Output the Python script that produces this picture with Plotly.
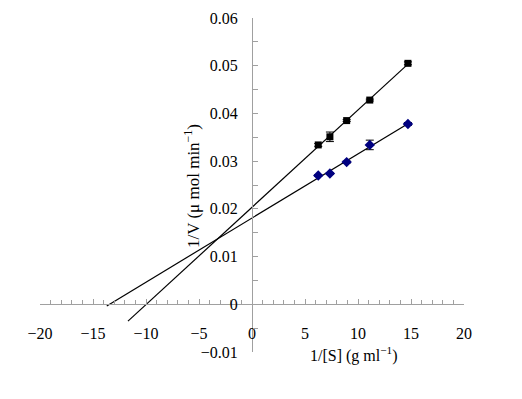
import numpy as np
import plotly.graph_objects as go

# Data
inv_s = [6.25, 7.35, 8.93, 11.11, 14.71]
inv_v_black = [0.0334, 0.0351, 0.0385, 0.0428, 0.0505]
err_black = [0.0003, 0.0010, 0.0002, 0.0002, 0.0003]
inv_v_blue = [0.0270, 0.0274, 0.0298, 0.0334, 0.0378]
err_blue = [0.0002, 0.0002, 0.0002, 0.0010, 0.0003]
trend_start_black = -11.7
trend_start_blue = -13.7

x_ticks = [-20, -15, -10, -5, 0, 5, 10, 15, 20]
x_ticktext = ["\u221220", "\u221215", "\u221210", "\u22125", "0", "5", "10", "15", "20"]
y_ticks = [-0.01, 0, 0.01, 0.02, 0.03, 0.04, 0.05, 0.06]
y_ticktext = ["\u22120.01", "0", "0.01", "0.02", "0.03", "0.04", "0.05", "0.06"]

FONT = "Liberation Serif, DejaVu Serif, serif"
tfont = dict(family=FONT, size=16, color="black")

fig = go.Figure()

def add_trend(xs, ys, x0):
    m, b = np.polyfit(xs, ys, 1)
    xl = np.array([x0, max(xs)])
    fig.add_trace(go.Scatter(x=xl, y=m * xl + b, mode="lines",
                             line=dict(color="black", width=1.2),
                             showlegend=False, hoverinfo="skip"))

add_trend(inv_s, inv_v_black, trend_start_black)
add_trend(inv_s, inv_v_blue, trend_start_blue)

fig.add_trace(go.Scatter(
    x=inv_s, y=inv_v_black, mode="markers",
    marker=dict(symbol="square", size=7, color="black"),
    error_y=dict(type="data", array=err_black, color="black", thickness=1, width=4),
    showlegend=False))
fig.add_trace(go.Scatter(
    x=inv_s, y=inv_v_blue, mode="markers",
    marker=dict(symbol="diamond", size=8, color="#000080"),
    error_y=dict(type="data", array=err_blue, color="black", thickness=1, width=4),
    showlegend=False))

# page body has an 8px margin; figure placed at (8, 8)
OFF = 8
W, H = 522 - OFF, 399 - OFF
L, T, R_EDGE, B_EDGE = 40, 18, 464, 352
ml, mt = L - OFF, T - OFF
mr, mb = W - (R_EDGE - OFF), H - (B_EDGE - OFF)

axis_col = "#a0a0a0"
fig.update_layout(
    width=W, height=H,
    margin=dict(l=ml, r=mr, t=mt, b=mb, autoexpand=False),
    paper_bgcolor="white", plot_bgcolor="white",
    font=dict(family=FONT, size=16, color="black"),
    xaxis=dict(range=[-20, 20], anchor="free", position=1/7, automargin=False,
               showgrid=False, zeroline=False,
               showline=True, linecolor=axis_col, linewidth=1,
               tickmode="array", tickvals=x_ticks, ticktext=x_ticktext,
               tickfont=tfont,
               ticks="inside", ticklen=5, tickcolor=axis_col,
               minor=dict(dtick=1, ticks="inside", ticklen=4, tickcolor=axis_col),
               ticklabelstandoff=15),
    yaxis=dict(range=[-0.01, 0.06], anchor="free", position=0.5, automargin=False,
               showgrid=False, zeroline=False,
               showline=True, linecolor=axis_col, linewidth=1,
               tickmode="array", tickvals=y_ticks, ticktext=y_ticktext,
               tickfont=tfont,
               ticks="inside", ticklen=5, tickcolor=axis_col,
               minor=dict(dtick=0.005, ticks="inside", ticklen=5, tickcolor=axis_col),
               ticklabelstandoff=11),
    annotations=[
        dict(text="1/V (\u03bc mol min<sup>\u22121</sup>)", x=192, y=186,
             xref="paper", yref="paper", showarrow=False, textangle=-90,
             xanchor="center", yanchor="middle",
             font=dict(family=FONT, size=17)),
        dict(text="1/[S] (g ml<sup>\u22121</sup>)", x=353, y=355,
             xref="paper", yref="paper", showarrow=False,
             xanchor="center", yanchor="middle",
             font=dict(family=FONT, size=16)),
    ],
)

# convert page-pixel annotation positions to paper fractions
pw = R_EDGE - L
ph = B_EDGE - T
for a in fig.layout.annotations:
    a.x = (a.x - L) / pw
    a.y = 1 - (a.y - T) / ph

fig.write_html("out.html")
